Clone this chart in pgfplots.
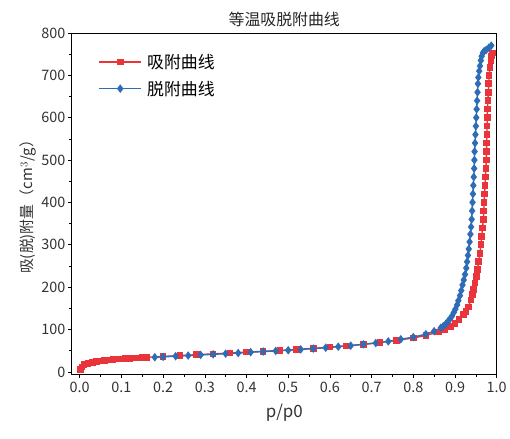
\documentclass[border=0pt]{standalone}
\usepackage{pgfplots}
\pgfplotsset{compat=1.18}
\usepackage{fontspec}
\setmainfont{Noto Sans CJK SC}
\definecolor{adsred}{RGB}{232,52,58}
\definecolor{desblue}{RGB}{46,108,182}
\begin{document}
\begin{tikzpicture}[x=1bp,y=1bp]
\path (-72,-65) rectangle (438,375);
\begin{axis}[
  at={(0,0)}, anchor=south west,
  scale only axis, width=426bp, height=342bp,
  xmin=-0.019, xmax=1.0, ymin=-5, ymax=800,
  xtick={0,0.1,...,1.0},
  xticklabels={0.0,0.1,0.2,0.3,0.4,0.5,0.6,0.7,0.8,0.9,1.0},
  minor xtick={0.05,0.15,...,0.95},
  ytick={0,100,...,800},
  minor ytick={50,150,...,750},
  tick align=outside,
  xtick pos=bottom, ytick pos=left,
  major tick length=4bp, minor tick length=2.5bp,
  tick style={black, line width=0.6pt},
  axis line style={black, line width=0.7pt},
  /pgf/number format/assume math mode=true,
  ticklabel style={font=\fontsize{14.5}{16}\selectfont, text=black!80},
  xticklabel style={yshift=-1bp},
  yticklabel style={xshift=1bp},
  title={等温吸脱附曲线},
  title style={font=\fontsize{16}{18}\selectfont, yshift=-3bp, text=black!85},
  xlabel={p/p0},
  xlabel style={font=\fontsize{17}{19}\selectfont, yshift=-4bp, text=black!80},
  ylabel={吸(脱)附量（cm$^3$/g）},
  ylabel style={font=\fontsize{15}{17}\selectfont, text=black!80, yshift=-2bp},
  legend style={at={(0.055,0.95)}, anchor=north west, draw=none, fill=none,
    font=\fontsize{17}{19}\selectfont, row sep=7bp,
    nodes={inner xsep=5bp}},
  legend cell align=left,
  legend image code/.code={
    \draw[#1, mark repeat=2, mark phase=2] plot coordinates {(0cm,0cm) (0.75cm,0cm) (1.5cm,0cm)};
  },
]
\addplot[color=adsred, line width=1.4pt, mark=square*, mark size=2.6pt, mark options={solid}] coordinates {
(0.002,5) (0.005,12) (0.01,17) (0.02,20) (0.03,22) (0.04,24) (0.05,25.5) (0.06,27)
(0.07,28) (0.08,29) (0.09,30) (0.10,30.5) (0.11,31) (0.12,32) (0.13,32.5) (0.14,33)
(0.15,34) (0.16,34.5) (0.20,36.5) (0.24,38.5) (0.28,40.5) (0.32,42.5) (0.36,44.5)
(0.40,46.5) (0.44,48.5) (0.48,50.5) (0.52,53) (0.56,55.5) (0.60,58.5) (0.64,61.5)
(0.68,65) (0.72,69.5) (0.76,74.5) (0.80,80) (0.83,86) (0.86,94) (0.875,100)
(0.89,107) (0.90,114) (0.91,123) (0.92,135) (0.926,142) (0.932,153) (0.938,170)
(0.942,182) (0.945,195) (0.948,210) (0.951,225) (0.954,242) (0.957,260) (0.960,280)
(0.962,300) (0.964,320) (0.966,340) (0.968,360) (0.969,380) (0.970,400) (0.971,420)
(0.972,440) (0.973,460) (0.974,480) (0.975,500) (0.9755,520) (0.976,540) (0.9765,560)
(0.977,580) (0.9775,600) (0.978,620) (0.979,640) (0.980,660) (0.981,680) (0.982,700)
(0.984,718) (0.986,735) (0.988,745) (0.990,753)
};
\addlegendentry{吸附曲线}
\addplot[color=desblue, line width=1.4pt, mark=diamond*, mark size=3.2pt, mark options={solid}] coordinates {
(0.987,770) (0.981,765) (0.975,760) (0.970,757) (0.967,753) (0.964,745) (0.962,735)
(0.960,722) (0.958,710) (0.956,695) (0.955,680) (0.954,660) (0.953,640) (0.952,620)
(0.951,600) (0.950,580) (0.949,560) (0.948,540) (0.947,520) (0.9465,500) (0.946,480)
(0.945,460) (0.944,440) (0.943,420) (0.942,400) (0.941,380) (0.940,360) (0.9385,342)
(0.937,325) (0.935,307) (0.933,290) (0.931,275) (0.929,260) (0.927,245) (0.924,230)
(0.921,217) (0.918,205) (0.915,192) (0.912,180) (0.908,168) (0.905,158) (0.901,148)
(0.897,140) (0.893,132) (0.888,125) (0.883,119) (0.878,113) (0.872,108) (0.866,104)
(0.85,96) (0.83,89) (0.80,82)
(0.77,77) (0.74,72) (0.71,68) (0.68,65) (0.65,62) (0.62,59.5) (0.59,57) (0.56,55)
(0.53,53) (0.50,51) (0.47,49.5) (0.44,48) (0.41,46.5) (0.38,44.5) (0.35,43)
(0.32,41.5) (0.29,40) (0.26,38.5) (0.23,37) (0.20,35.5) (0.18,34.5)
};
\addlegendentry{脱附曲线}
\end{axis}
\end{tikzpicture}
\end{document}
